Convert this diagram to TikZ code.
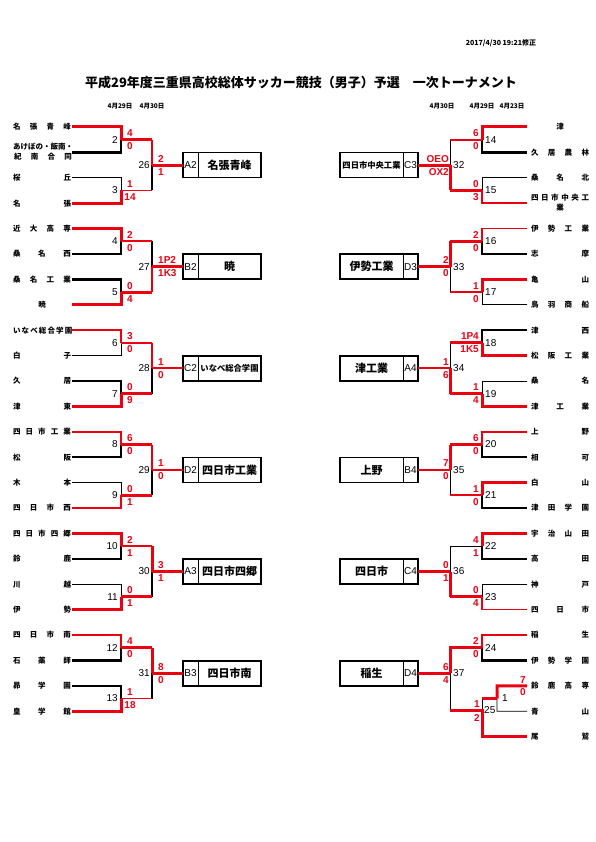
\documentclass[tikz,border=0pt]{standalone}
\usepackage{fontspec}
\setmainfont{Liberation Sans}
\newfontfamily\jp{Noto Sans CJK JP}
\usetikzlibrary{positioning}
\definecolor{xred}{RGB}{235,0,18}
\newcommand\tm[1]{\makebox[58pt][s]{#1}}
\newcommand\twoA{\hfil\begin{tabular}{@{}c@{}}あけぼの・飯南・\\\tm{紀 南 合 同}\end{tabular}\hfil}
\newcommand\twoB{\hfil\begin{tabular}{@{}c@{}}\tm{四 日 市 中 央 工}\\業\end{tabular}\hfil}

\begin{document}
\begin{tikzpicture}[x=1pt,y=-1pt,
  redthick/.style={draw=xred,line width=3pt},
  redthin/.style={draw=xred,line width=1.7pt},
  blkthick/.style={draw=black,line width=2.4pt},
  blkthin/.style={draw=black,line width=0.9pt},
  team/.style={font=\jp\bfseries\fontsize{7.5}{10}\selectfont,inner sep=0pt},
  score/.style={text=xred,font=\bfseries\fontsize{10}{10}\selectfont,inner sep=0pt},
  mno/.style={font=\fontsize{10}{10}\selectfont,inner sep=0pt},
  date/.style={font=\jp\bfseries\fontsize{6.5}{7}\selectfont,inner sep=0pt},
  box/.style={draw,line width=1.8pt,minimum width=78pt,minimum height=25pt,inner sep=0pt,outer sep=0pt},
  tag/.style={font=\fontsize{10}{10}\selectfont,inner sep=0pt},
  boxname/.style={font=\jp\bfseries\fontsize{11}{11}\selectfont,inner sep=0pt}]
\useasboundingbox (0,0) rectangle (595,842);

% header
\node[font=\jp\bfseries\fontsize{7}{8}\selectfont,inner sep=0pt] (stamp) at (501,43) {2017/4/30 19:21修正};
\node[font=\jp\bfseries\fontsize{13}{14}\selectfont,inner sep=0pt] (title) at (301,83) {平成29年度三重県高校総体サッカー競技（男子）予選　一次トーナメント};
\node[date] (d1) at (120,106) {4月29日};
\node[date] (d2) at (152,106) {4月30日};
\node[date] (d3) at (442,106) {4月30日};
\node[date] (d4) at (482,106) {4月29日};
\node[date] (d5) at (512,106) {4月23日};

% left half
\foreach \i in {0,...,23}{
  \coordinate (la\i) at (72,{127+25.4*\i});
  \coordinate (lb\i) at (121,{127+25.4*\i});
}
\foreach \m in {0,...,11}{
  \coordinate (lm\m) at (121,{139.7+50.8*\m});
  \coordinate (ln\m) at (152,{139.7+50.8*\m});
}
\foreach \k in {0,...,5}
  \coordinate (lq\k) at (152,{165.1+101.6*\k});

\foreach \n [count=\i from 0] in {名 張 青 峰,\twoA,桜 丘,名 張,近 大 高 専,桑 名 西,桑 名 工 業,\hfil 暁\hfil,
  い な べ 総 合 学 園,白 子,久 居,津 東,四 日 市 工 業,松 阪,木 本,四 日 市 西,
  四 日 市 四 郷,鈴 鹿,川 越,伊 勢,四 日 市 南,石 薬 師,昴 学 園,皇 学 館}
  \node[team] (lt\i) at (42,{127+25.4*\i}) {\tm{\n}};

\foreach \k/\tg/\nm in {0/A2/名張青峰,1/B2/暁,2/C2/{\fontsize{8.3}{9}\selectfont いなべ総合学園},
  3/D2/四日市工業,4/A3/四日市四郷,5/B3/四日市南}{
  \node[box] (lbox\k) at (222,{165.1+101.6*\k}) {};
  \draw[line width=0.8pt] ([xshift=15pt]lbox\k.north west) -- ([xshift=15pt]lbox\k.south west);
  \node[tag] (ltag\k) at ([xshift=7.5pt]lbox\k.west) {\tg};
  \node[boxname] (lname\k) at ([xshift=-31.5pt]lbox\k.east) {\nm};
}

\foreach \k/\sa/\sb/\sc/\sd/\oa/\ob/\va/\vb/\fn in {
  0/redthick/blkthick/blkthin/redthick/redthick/redthin/redthin/blkthick/redthick,
  1/redthick/blkthick/blkthick/redthick/redthin/redthick/blkthick/redthin/redthick,
  2/redthin/blkthin/blkthick/redthick/redthin/redthick/redthin/blkthick/redthin,
  3/redthin/blkthick/blkthin/redthin/redthick/redthick/redthin/blkthick/redthin,
  4/redthick/blkthick/blkthin/redthick/redthin/redthick/redthick/blkthick/redthick,
  5/redthin/blkthick/blkthick/redthick/redthick/redthin/redthick/blkthick/redthick}{
  \pgfmathtruncatemacro\ia{4*\k}
  \pgfmathtruncatemacro\ib{4*\k+1}
  \pgfmathtruncatemacro\ic{4*\k+2}
  \pgfmathtruncatemacro\id{4*\k+3}
  \pgfmathtruncatemacro\ma{2*\k}
  \pgfmathtruncatemacro\mb{2*\k+1}
  \draw[\sb] (la\ib) -- (lb\ib) -- (lm\ma);
  \draw[\sc] (la\ic) -- (lb\ic) -- (lm\mb);
  \draw[\sa] (la\ia) -- (lb\ia) -- (lm\ma);
  \draw[\sd] (la\id) -- (lb\id) -- (lm\mb);
  \draw[\va] (ln\ma) -- (lq\k);
  \draw[\vb] (ln\mb) -- (lq\k);
  \draw[\oa] (lm\ma) -- (ln\ma);
  \draw[\ob] (lm\mb) -- (ln\mb);
  \draw[\fn] (lq\k) -- (lbox\k.west);
}

\foreach \m/\no/\a/\b in {0/2/4/0,1/3/1/14,2/4/2/0,3/5/0/4,4/6/3/0,5/7/0/9,
  6/8/6/0,7/9/0/1,8/10/2/1,9/11/0/1,10/12/4/0,11/13/1/18}{
  \node[mno,anchor=east] (lno\m) at ([xshift=-3pt]lm\m) {\no};
  \node[score] (lsa\m) at ([xshift=9pt,yshift=6.5pt]lm\m) {\a};
  \node[score] (lsb\m) at ([xshift=9pt,yshift=-6.5pt]lm\m) {\b};
}
\foreach \k/\no/\a/\b in {0/26/2/1,1/27/1P2/1K3,2/28/1/0,3/29/1/0,4/30/3/1,5/31/8/0}{
  \node[mno,anchor=east] (lqn\k) at ([xshift=-2pt]lq\k) {\no};
  \node[score,anchor=west] (lqa\k) at ([xshift=6pt,yshift=6.5pt]lq\k) {\a};
  \node[score,anchor=west] (lqb\k) at ([xshift=6pt,yshift=-6.5pt]lq\k) {\b};
}

% right half
\foreach \i in {0,...,24}{
  \coordinate (ra\i) at (527,{127+25.4*\i});
  \coordinate (rb\i) at (482,{127+25.4*\i});
}
\foreach \m in {0,...,10}{
  \coordinate (rm\m) at (482,{139.7+50.8*\m});
  \coordinate (rn\m) at (450,{139.7+50.8*\m});
}
\foreach \k in {0,...,5}
  \coordinate (rq\k) at (450,{165.1+101.6*\k});
\coordinate (rc22) at (497,685.8);
\coordinate (rc23) at (497,711.2);
\coordinate (s1m) at (497,698.5);
\coordinate (s1o) at (482,698.5);
\coordinate (s25) at (482,710);
\coordinate (s25o) at (450,710);

\foreach \n [count=\i from 0] in {\hfil 津\hfil,久 居 農 林,桑 名 北,\twoB,伊 勢 工 業,志 摩,亀 山,鳥 羽 商 船,
  津 西,松 阪 工 業,桑 名,津 工 業,上 野,相 可,白 山,津 田 学 園,
  宇 治 山 田,高 田,神 戸,四 日 市,稲 生,伊 勢 学 園,鈴 鹿 高 専,青 山,尾 鷲}
  \node[team] (rt\i) at (560,{127+25.4*\i}) {\tm{\n}};

\foreach \k/\tg/\nm in {0/C3/{\fontsize{8.3}{9}\selectfont 四日市中央工業},1/D3/伊勢工業,2/A4/津工業,
  3/B4/上野,4/C4/四日市,5/D4/稲生}{
  \node[box] (rbox\k) at (379,{165.1+101.6*\k}) {};
  \draw[line width=0.8pt] ([xshift=-15pt]rbox\k.north east) -- ([xshift=-15pt]rbox\k.south east);
  \node[tag] (rtag\k) at ([xshift=-7.5pt]rbox\k.east) {\tg};
  \node[boxname] (rname\k) at ([xshift=31.5pt]rbox\k.west) {\nm};
}

\foreach \k/\sa/\sb/\sc/\sd/\oa/\ob/\va/\vb/\fn in {
  0/redthick/blkthick/blkthin/redthin/redthin/redthick/blkthin/redthick/redthick,
  1/redthin/blkthick/redthick/blkthin/redthick/redthin/redthick/blkthin/redthick,
  2/blkthick/redthick/blkthin/redthick/redthick/redthick/blkthin/redthick/redthin,
  3/redthin/blkthick/redthick/blkthick/redthick/redthin/redthick/blkthin/redthin,
  4/redthick/blkthick/blkthin/redthin/blkthin/redthick/blkthin/redthick/redthick}{
  \pgfmathtruncatemacro\ia{4*\k}
  \pgfmathtruncatemacro\ib{4*\k+1}
  \pgfmathtruncatemacro\ic{4*\k+2}
  \pgfmathtruncatemacro\id{4*\k+3}
  \pgfmathtruncatemacro\ma{2*\k}
  \pgfmathtruncatemacro\mb{2*\k+1}
  \draw[\sb] (ra\ib) -- (rb\ib) -- (rm\ma);
  \draw[\sc] (ra\ic) -- (rb\ic) -- (rm\mb);
  \draw[\sa] (ra\ia) -- (rb\ia) -- (rm\ma);
  \draw[\sd] (ra\id) -- (rb\id) -- (rm\mb);
  \draw[\va] (rn\ma) -- (rq\k);
  \draw[\vb] (rn\mb) -- (rq\k);
  \draw[\oa] (rm\ma) -- (rn\ma);
  \draw[\ob] (rm\mb) -- (rn\mb);
  \draw[\fn] (rq\k) -- (rbox\k.east);
}
% last block with the extra match 1
\draw[blkthick] (ra21) -- (rb21) -- (rm10);
\draw[redthin] (ra20) -- (rb20) -- (rm10);
\draw[blkthin] (ra23) -- (rc23) -- (s1m);
\draw[redthick] (ra22) -- (rc22) -- (s1m);
\draw[blkthin] (s1o) -- (s25);
\draw[blkthin] (s25o) -- (rq5);
\draw[redthick] (rm10) -- (rn10) -- (rq5);
\draw[redthick] (s1m) -- (s1o);
\draw[redthick] (ra24) -- (rb24) -- (s25) -- (s25o);
\draw[redthick] (rq5) -- (rbox5.east);

\foreach \m/\no/\a/\b in {0/14/6/0,1/15/0/3,2/16/2/0,3/17/1/0,4/18/1P4/1K5,5/19/1/4,
  6/20/6/0,7/21/1/0,8/22/4/1,9/23/0/4,10/24/2/0}{
  \node[mno,anchor=west] (rno\m) at ([xshift=3pt]rm\m) {\no};
  \node[score,anchor=east] (rsa\m) at ([xshift=-3pt,yshift=6.5pt]rm\m) {\a};
  \node[score,anchor=east] (rsb\m) at ([xshift=-3pt,yshift=-6.5pt]rm\m) {\b};
}
\foreach \k/\no/\a/\b in {0/32/OEO/OX2,1/33/2/0,2/34/1/6,3/35/7/0,4/36/0/1,5/37/6/4}{
  \node[mno,anchor=west] (rqn\k) at ([xshift=3pt]rq\k) {\no};
  \node[score,anchor=east] (rqa\k) at ([xshift=-1pt,yshift=6.5pt]rq\k) {\a};
  \node[score,anchor=east] (rqb\k) at ([xshift=-1pt,yshift=-6.5pt]rq\k) {\b};
}
\node[mno,anchor=west] (m1no) at ([xshift=5pt]s1m) {1};
\node[score] (m1a) at (523,680) {7};
\node[score] (m1b) at (523,692) {0};
\node[mno,anchor=west] (m25no) at ([xshift=2pt]s25) {25};
\node[score,anchor=east] (m25a) at ([xshift=-2pt,yshift=5.5pt]s25) {1};
\node[score,anchor=east] (m25b) at ([xshift=-2pt,yshift=-7.5pt]s25) {2};
\end{tikzpicture}
\end{document}
